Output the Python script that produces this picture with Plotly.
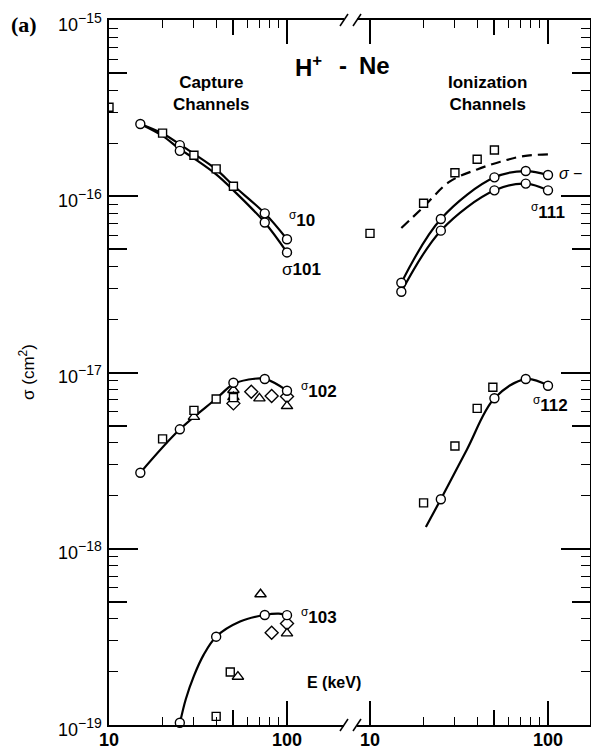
import plotly.graph_objects as go
import math

# ---------------- data (E in keV, sigma in cm^2) ----------------
# Capture channels
s10_line_E = [15, 20, 25, 30, 40, 50, 75, 100]
s10_line_y = [2.57e-16, 2.27e-16, 1.97e-16, 1.74e-16, 1.42e-16, 1.15e-16, 8.0e-17, 5.7e-17]
s101_line_E = [15, 20, 25, 30, 40, 50, 75, 100]
s101_line_y = [2.57e-16, 2.2e-16, 1.85e-16, 1.64e-16, 1.33e-16, 1.08e-16, 7.1e-17, 4.8e-17]
s10_circ_E = [15, 25, 75, 100]
s10_circ_y = [2.57e-16, 1.95e-16, 8.0e-17, 5.7e-17]
s101_circ_E = [25, 75, 100]
s101_circ_y = [1.81e-16, 7.1e-17, 4.8e-17]
s10_sq_E = [10, 20, 30, 40, 50]
s10_sq_y = [3.2e-16, 2.28e-16, 1.71e-16, 1.43e-16, 1.14e-16]

s102_line_E = [15, 25, 40, 50, 60, 75, 100]
s102_line_y = [2.7e-18, 4.76e-18, 7.1e-18, 8.6e-18, 9.1e-18, 9.2e-18, 7.9e-18]
s102_circ_E = [15, 25, 50, 75, 100]
s102_circ_y = [2.7e-18, 4.76e-18, 8.75e-18, 9.18e-18, 7.88e-18]
s102_sq_E = [20, 30, 40, 50]
s102_sq_y = [4.2e-18, 6.1e-18, 7.08e-18, 7.2e-18]
s102_tri_E = [30, 50, 50, 70, 100]
s102_tri_y = [5.6e-18, 7.96e-18, 7.25e-18, 7.13e-18, 6.45e-18]
s102_dia_E = [50, 63, 82, 100]
s102_dia_y = [6.68e-18, 7.78e-18, 7.36e-18, 7.3e-18]

s103_line_E = [25, 27, 30, 34, 40, 54.5, 75, 90, 100]
s103_line_y = [1.02e-19, 1.4e-19, 1.9e-19, 2.5e-19, 3.17e-19, 3.86e-19, 4.21e-19, 4.28e-19, 4.2e-19]
s103_circ_E = [25, 40, 75, 100]
s103_circ_y = [1.03e-19, 3.17e-19, 4.21e-19, 4.2e-19]
s103_sq_E = [48, 40]
s103_sq_y = [2.0e-19, 1.12e-19]
s103_tri_E = [53, 71, 100]
s103_tri_y = [1.88e-19, 5.52e-19, 3.31e-19]
s103_dia_E = [82, 100]
s103_dia_y = [3.34e-19, 3.77e-19]

# Ionization channels
stot_dash_E = [15, 20, 28, 40, 54, 73, 100]
stot_dash_y = [6.6e-17, 8.7e-17, 1.21e-16, 1.42e-16, 1.57e-16, 1.69e-16, 1.73e-16]
stot_sq_E = [10, 20, 30, 40, 50]
stot_sq_y = [6.16e-17, 9.12e-17, 1.36e-16, 1.62e-16, 1.83e-16]
sminus_E = [15, 25, 50, 75, 100]
sminus_y = [3.23e-17, 7.43e-17, 1.28e-16, 1.39e-16, 1.32e-16]
s111_E = [15, 25, 50, 75, 100]
s111_y = [2.87e-17, 6.38e-17, 1.08e-16, 1.18e-16, 1.08e-16]

s112_line_E = [20.6, 25, 35, 50, 75, 100]
s112_line_y = [1.33e-18, 1.91e-18, 3.65e-18, 7.14e-18, 9.18e-18, 8.41e-18]
s112_circ_E = [25, 50, 75, 100]
s112_circ_y = [1.91e-18, 7.14e-18, 9.18e-18, 8.41e-18]
s112_sq_E = [20, 30, 40, 49]
s112_sq_y = [1.82e-18, 3.83e-18, 6.26e-18, 8.24e-18]

x_major = [10, 100]
x_major_text = ["10", "100"]
x_mid = [50]
x_minor = [20, 30, 40, 60, 70, 80, 90]
y_major = [1e-19, 1e-18, 1e-17, 1e-16, 1e-15]
y_major_exp = ["\u221219", "\u221218", "\u221217", "\u221216", "\u221215"]
y_mid = [5e-19, 5e-18, 5e-17, 5e-16]
y_minor = [k * 10.0 ** d for d in range(-19, -15) for k in (2, 3, 4, 6, 7, 8, 9)]

# ---------------- layout geometry ----------------
W, H = 591, 751
L, R, T, B = 109, 1, 20, 26
PW, PH = W - L - R, H - T - B


def px(x):
    return (x - L) / PW


def py(y):
    return 1 - (y - T) / PH


x1_dom = [0, px(344)]
x2_dom = [px(357), 1]
x1_rng = [1, 1 + (344 - 109) / 178]
x2_rng = [1 + (357 - 370) / 178, 1 + (590 - 370) / 178]
y_rng = [-19, -15]

FONT = "Liberation Sans, Arial, sans-serif"
fig = go.Figure()


def line(E, y, xa, ya, dash="solid"):
    fig.add_trace(go.Scatter(x=E, y=y, xaxis=xa, yaxis=ya, mode="lines",
                             line=dict(color="black", width=2.2, shape="spline", dash=dash),
                             showlegend=False, hoverinfo="skip"))


def marks(E, y, xa, ya, symbol, size, clip=True):
    fig.add_trace(go.Scatter(x=E, y=y, xaxis=xa, yaxis=ya, mode="markers",
                             marker=dict(symbol=symbol, size=size, color="white",
                                         line=dict(color="black", width=1.4)),
                             cliponaxis=clip, showlegend=False, hoverinfo="skip"))


# left panel
line(s10_line_E, s10_line_y, "x", "y")
line(s101_line_E, s101_line_y, "x", "y")
line(s102_line_E, s102_line_y, "x", "y")
line(s103_line_E, s103_line_y, "x", "y")
marks(s10_sq_E, s10_sq_y, "x", "y", "square", 8)
marks(s10_circ_E, s10_circ_y, "x", "y", "circle", 9, False)
marks(s101_circ_E, s101_circ_y, "x", "y", "circle", 9, False)
marks(s102_dia_E, s102_dia_y, "x", "y", "diamond", 10)
marks(s102_tri_E, s102_tri_y, "x", "y", "triangle-up", 10)
marks(s102_sq_E, s102_sq_y, "x", "y", "square", 8)
marks(s102_circ_E, s102_circ_y, "x", "y", "circle", 9, False)
marks(s103_dia_E, s103_dia_y, "x", "y", "diamond", 10)
marks(s103_tri_E, s103_tri_y, "x", "y", "triangle-up", 10)
marks(s103_sq_E, s103_sq_y, "x", "y", "square", 8, False)
marks(s103_circ_E, s103_circ_y, "x", "y", "circle", 9, False)

# right panel
line(stot_dash_E, stot_dash_y, "x2", "y2", dash="10px,6px")
line(sminus_E, sminus_y, "x2", "y2")
line(s111_E, s111_y, "x2", "y2")
line(s112_line_E, s112_line_y, "x2", "y2")
marks(stot_sq_E, stot_sq_y, "x2", "y2", "square", 8)
marks(sminus_E, sminus_y, "x2", "y2", "circle", 9)
marks(s111_E, s111_y, "x2", "y2", "circle", 9)
marks(s112_sq_E, s112_sq_y, "x2", "y2", "square", 8)
marks(s112_circ_E, s112_circ_y, "x2", "y2", "circle", 9)

# empty traces to register overlay axes
for xa, ya in [("x3", "y"), ("x", "y3"), ("x4", "y2"), ("x2", "y4")]:
    fig.add_trace(go.Scatter(x=[], y=[], xaxis=xa, yaxis=ya, showlegend=False))

ax_common = dict(type="log", showline=True, linecolor="black", linewidth=1.5,
                 ticks="inside", tickcolor="black", tickwidth=1.5,
                 showgrid=False, zeroline=False, automargin=False,
                 showticklabels=False)
minor_x = dict(tickmode="array", tickvals=x_minor, ticks="inside", ticklen=8,
               tickcolor="black", tickwidth=1.3, showgrid=False)
minor_y = dict(tickmode="array", tickvals=y_minor, ticks="inside", ticklen=9,
               tickcolor="black", tickwidth=1.3, showgrid=False)

fig.update_layout(
    width=W, height=H,
    margin=dict(l=L, r=R, t=T, b=B, pad=0, autoexpand=False),
    paper_bgcolor="white", plot_bgcolor="white",
    showlegend=False,
    xaxis=dict(**ax_common, domain=x1_dom, range=x1_rng, anchor="y", mirror="ticks",
               tickmode="array", tickvals=x_major, ticklen=24, minor=minor_x),
    xaxis2=dict(**ax_common, domain=x2_dom, range=x2_rng, anchor="y2", mirror="ticks",
                tickmode="array", tickvals=x_major, ticklen=24, minor=minor_x),
    xaxis3=dict(**ax_common, overlaying="x", range=x1_rng, anchor="y", mirror="ticks",
                tickmode="array", tickvals=x_mid, ticklen=15),
    xaxis4=dict(**ax_common, overlaying="x2", range=x2_rng, anchor="y2", mirror="ticks",
                tickmode="array", tickvals=x_mid, ticklen=15),
    yaxis=dict(**ax_common, domain=[0, 1], range=y_rng, anchor="x", side="left",
               tickmode="array", tickvals=y_major, ticklen=29, minor=minor_y),
    yaxis2=dict(**ax_common, domain=[0, 1], range=y_rng, anchor="x2", side="right",
                tickmode="array", tickvals=y_major, ticklen=29, minor=minor_y),
    yaxis3=dict(**ax_common, overlaying="y", range=y_rng, anchor="x", side="left",
                tickmode="array", tickvals=y_mid, ticklen=18),
    yaxis4=dict(**ax_common, overlaying="y2", range=y_rng, anchor="x2", side="right",
                tickmode="array", tickvals=y_mid, ticklen=18),
)

# axis break marks
for xb in (344, 357):
    for yb in (20, 725):
        fig.add_shape(type="line", xref="paper", yref="paper",
                      x0=px(xb - 4), y0=py(yb + 6), x1=px(xb + 4), y1=py(yb - 6),
                      line=dict(color="black", width=1.5))

# tick labels (placed on the axes' own scales)
for xr in ("x", "x2"):
    for v, t in zip(x_major, x_major_text):
        fig.add_annotation(text="<b>" + t + "</b>", x=math.log10(v), xref=xr,
                           y=py(740), yref="paper", showarrow=False,
                           xanchor="center", yanchor="middle",
                           font=dict(family=FONT, size=18, color="black"))
for v, e in zip(y_major, y_major_exp):
    fig.add_annotation(text="10<sup><span style='font-size:14px'>" + e + "</span></sup>",
                       x=px(104), xref="paper", y=math.log10(v), yref="y",
                       showarrow=False, xanchor="right", yanchor="middle", yshift=-2,
                       font=dict(family=FONT, size=18, color="black"))


def ann(text, x, y, size=17, xanchor="center", family=FONT, angle=0):
    fig.add_annotation(text=text, x=px(x), y=py(y), xref="paper", yref="paper",
                       showarrow=False, xanchor=xanchor, yanchor="middle",
                       textangle=angle, font=dict(family=family, size=size, color="black"))


ann("<b>(a)</b>", 24, 24, size=22, family="Liberation Serif, Times New Roman, serif")
ann("<b>H<sup>+</sup></b>", 293, 66, size=24, xanchor="left")
ann("<b>-</b>", 343, 66, size=24)
ann("<b>Ne</b>", 357, 66, size=24, xanchor="left")
ann("<b>Capture<br>Channels</b>", 211, 93, size=17)
ann("<b>Ionization<br>Channels</b>", 487, 93, size=17)
ann("<b>E (keV)</b>", 305, 682, size=16, xanchor="left")
ann("\u03c3 (cm<sup>2</sup>)", 27, 372, size=17, angle=-90)

ann("<sup>\u03c3</sup><b>10</b>", 287, 219, xanchor="left")
ann("\u03c3<b>101</b>", 280, 269, xanchor="left")
ann("<sup>\u03c3</sup><b>102</b>", 299, 390, xanchor="left")
ann("<sup>\u03c3</sup><b>103</b>", 299, 616, xanchor="left")
ann("<i>\u03c3</i> \u2212", 557, 173, size=16, xanchor="left")
ann("<sup>\u03c3</sup><b>111</b>", 529, 211, xanchor="left")
ann("<sup>\u03c3</sup><b>112</b>", 531, 404, xanchor="left")

fig.write_html("out.html", config={"displayModeBar": False},
               post_script="document.body.style.margin='0';document.body.style.padding='0';")
